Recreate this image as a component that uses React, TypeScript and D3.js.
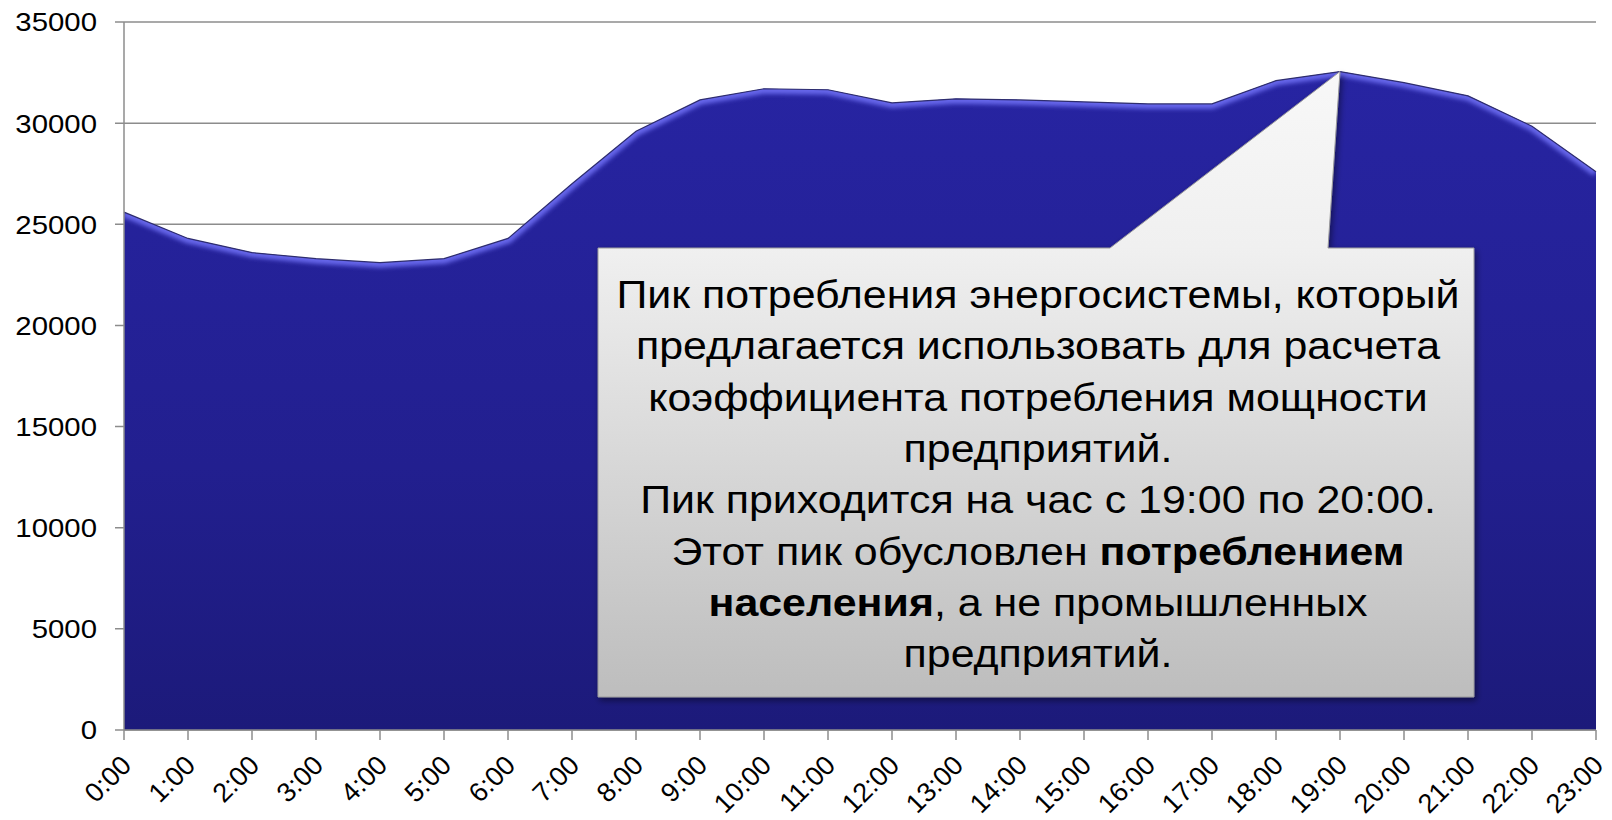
import * as d3 from "d3";

const hours = [
  "0:00", "1:00", "2:00", "3:00", "4:00", "5:00", "6:00", "7:00", "8:00", "9:00", "10:00", "11:00",
  "12:00", "13:00", "14:00", "15:00", "16:00", "17:00", "18:00", "19:00", "20:00", "21:00", "22:00", "23:00",
];
const load = [
  25600, 24300, 23600, 23300, 23100, 23300, 24300, 27000, 29600, 31150, 31700, 31650,
  31000, 31200, 31150, 31050, 30950, 30950, 32100, 32550, 32000, 31350, 29850, 27600,
];
const yTicks = [0, 5000, 10000, 15000, 20000, 25000, 30000, 35000];

// callout lines, each a list of [text, bold]
const calloutLines: [string, boolean][][] = [
  [["Пик потребления энергосистемы, который", false]],
  [["предлагается использовать для расчета", false]],
  [["коэффициента потребления мощности", false]],
  [["предприятий.", false]],
  [["Пик приходится на час с 19:00 по 20:00.", false]],
  [["Этот пик обусловлен ", false], ["потреблением", true]],
  [["населения", true], [", а не промышленных", false]],
  [["предприятий.", false]],
];
const peakHour = 19;

const W = 1612;
const H = 820;
const left = 124;
const right = 1596;
const top = 22;
const bottom = 730;
const font = "Liberation Sans, Arial, sans-serif";
// the source picture is a bit wider than tall, so the glyphs are stretched
const sx = 1.13;

export default function App() {
  const x = d3.scaleLinear().domain([0, hours.length - 1]).range([left, right]);
  const y = d3.scaleLinear().domain([0, 35000]).range([bottom, top]);

  const area = d3
    .area<number>()
    .x((_, i) => x(i))
    .y0(y(0))
    .y1((d) => y(d));
  const line = d3
    .line<number>()
    .x((_, i) => x(i))
    .y((d) => y(d));

  // callout box
  const box = { x0: 598, x1: 1474, y0: 248, y1: 697 };
  const tipX = x(peakHour);
  const tipY = y(load[peakHour]);
  const calloutPath = [
    `M${box.x0},${box.y0}`,
    `L1110,${box.y0}`,
    `L${tipX},${tipY}`,
    `L${tipX - 12},${box.y0}`,
    `L${box.x1},${box.y0}`,
    `L${box.x1},${box.y1}`,
    `L${box.x0},${box.y1}`,
    "Z",
  ].join(" ");
  const cx = (box.x0 + box.x1) / 2 + 2;

  return (
    <div style={{ position: "absolute", left: 0, top: 0 }}>
      <svg width={W} height={H} viewBox={`0 0 ${W} ${H}`} style={{ display: "block", background: "#fff" }}>
        <defs>
          <linearGradient id="areaFill" x1="0" y1="0" x2="0" y2="1">
            <stop offset="0" stopColor="#2724a2" />
            <stop offset="0.6" stopColor="#221f8f" />
            <stop offset="1" stopColor="#1c1a7a" />
          </linearGradient>
          <linearGradient id="boxFill" gradientUnits="userSpaceOnUse" x1="0" y1={tipY} x2="0" y2={box.y1}>
            <stop offset="0" stopColor="#f8f8f8" />
            <stop offset="0.28" stopColor="#f0f0f0" />
            <stop offset="1" stopColor="#bdbdbd" />
          </linearGradient>
          <clipPath id="areaClip">
            <path d={area(load) ?? ""} />
          </clipPath>
          <filter id="blur" x="-5%" y="-20%" width="110%" height="140%">
            <feGaussianBlur stdDeviation="2.2" />
          </filter>
          <filter id="shadow" x="-5%" y="-5%" width="110%" height="115%">
            <feDropShadow dx="2" dy="3" stdDeviation="3" floodColor="#000" floodOpacity="0.45" />
          </filter>
        </defs>

        {yTicks.map((t) => (
          <g key={t}>
            <line x1={left - 9} x2={right} y1={y(t)} y2={y(t)} stroke="#8c8c8c" strokeWidth={1.5} />
            <text
              transform={`translate(97,${y(t)}) scale(${sx},1)`}
              dy="0.36em"
              textAnchor="end"
              fontFamily={font}
              fontSize={26}
              fill="#000"
            >
              {t}
            </text>
          </g>
        ))}

        <path d={area(load) ?? ""} fill="url(#areaFill)" />
        <g clipPath="url(#areaClip)">
          <path d={line(load) ?? ""} fill="none" stroke="#6666ea" strokeWidth={10} filter="url(#blur)" />
          <line x1={right} x2={right} y1={top} y2={bottom} stroke="#141260" strokeWidth={4} filter="url(#blur)" />
          <line x1={left} x2={right} y1={bottom} y2={bottom} stroke="#141260" strokeWidth={6} filter="url(#blur)" />
        </g>
        <path d={line(load) ?? ""} fill="none" stroke="#2e2d6e" strokeWidth={1.2} />

        <line x1={left} x2={left} y1={top} y2={bottom} stroke="#8c8c8c" strokeWidth={1.5} />
        <line x1={left} x2={right} y1={bottom} y2={bottom} stroke="#8c8c8c" strokeWidth={1.5} />
        {hours.map((h, i) => (
          <g key={h}>
            <line x1={x(i)} x2={x(i)} y1={bottom} y2={bottom + 10} stroke="#8c8c8c" strokeWidth={1.5} />
            <text
              transform={`translate(${x(i) + 2},${bottom + 30}) rotate(-45)`}
              textAnchor="end"
              dy="0.36em"
              fontFamily={font}
              fontSize={27}
              fill="#000"
            >
              {h}
            </text>
          </g>
        ))}

        <path d={calloutPath} fill="url(#boxFill)" stroke="#9a9a9a" strokeWidth={1} filter="url(#shadow)" />
        {calloutLines.map((segs, i) => (
          <text
            key={i}
            transform={`translate(${cx},${308 + i * 51.3}) scale(${sx},1)`}
            textAnchor="middle"
            fontFamily={font}
            fontSize={38}
            fill="#000"
          >
            {segs.map(([s, b], j) => (
              <tspan key={j} fontWeight={b ? "bold" : "normal"}>
                {s}
              </tspan>
            ))}
          </text>
        ))}
      </svg>
    </div>
  );
}
